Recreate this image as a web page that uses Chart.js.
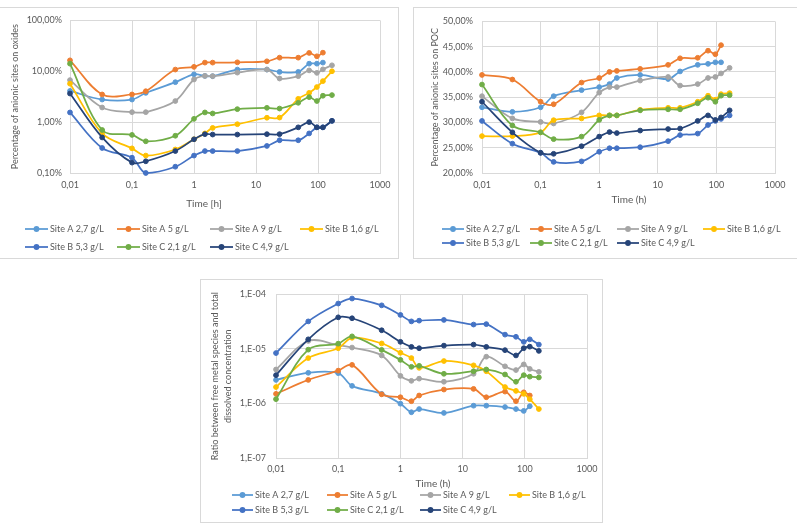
<!DOCTYPE html>
<html><head><meta charset="utf-8">
<script src="https://cdn.jsdelivr.net/npm/chart.js@4.4.1/dist/chart.umd.min.js"></script>
<style>
body{margin:0;background:#fff;width:797px;height:529px;overflow:hidden;position:relative}
.box{position:absolute;border:1px solid #d9d9d9;box-sizing:border-box}
canvas{position:absolute}
</style></head><body>
<div class="box" style="left:-1px;top:7px;width:400px;height:252px"></div>
<canvas id="c1" width="399" height="252" style="left:0;top:7px"></canvas>
<div class="box" style="left:413px;top:7px;width:385px;height:252px"></div>
<canvas id="c2" width="384" height="252" style="left:413px;top:7px"></canvas>
<div class="box" style="left:200px;top:279px;width:403px;height:244px"></div>
<canvas id="c3" width="403" height="244" style="left:200px;top:279px"></canvas>
<script>
// ---------- data ----------
const times = [0.01, 0.033, 0.1, 0.167, 0.5, 1, 1.5, 2, 5, 15, 24, 48, 72, 96, 120, 168];
const seriesNames = ['Site A 2,7 g/L','Site A 5 g/L','Site A 9 g/L','Site B 1,6 g/L','Site B 5,3 g/L','Site C 2,1 g/L','Site C 4,9 g/L'];
const seriesColors = ['#5B9BD5','#ED7D31','#A5A5A5','#FFC000','#4472C4','#70AD47','#264478'];
const xTickValues = [0.01, 0.1, 1, 10, 100, 1000];
const xTickLabels = ['0,01','0,1','1','10','100','1000'];

// Chart 1: percentage of anionic sites on oxides (%)
const oxA27 = [4.1, 2.78, 2.78, 3.76, 6.1, 8.7, 8.1, 8.0, 10.8, 10.8, 9.7, 9.7, 14.1, 14.1, 14.8];
const oxA5  = [16.4, 3.5, 3.5, 4.05, 10.8, 12.2, 14.8, 14.8, 15.0, 15.7, 18.5, 18.5, 22.9, 19.7, 23.2];
const oxA9  = [6.7, 1.94, 1.57, 1.57, 2.6, 6.9, 8.1, 8.0, 9.4, 10.8, 7.2, 8.0, 10.4, 9.3, 10.9, 13.1];
const oxB16 = [5.7, 0.6, 0.305, 0.22, 0.29, 0.46, 0.6, 0.77, 0.91, 1.22, 1.23, 2.87, 3.76, 4.9, 6.4, 10.0];
const oxB53 = [1.55, 0.31, 0.2, 0.1, 0.133, 0.22, 0.27, 0.27, 0.27, 0.34, 0.44, 0.44, 0.6, 0.79, 0.79, 1.06];
const oxC21 = [14.1, 0.7, 0.56, 0.42, 0.54, 1.16, 1.55, 1.48, 1.8, 1.91, 1.85, 2.4, 3.1, 2.6, 3.3, 3.4];
const oxC49 = [3.65, 0.5, 0.16, 0.17, 0.27, 0.46, 0.58, 0.57, 0.57, 0.58, 0.58, 0.79, 1.0, 0.79, 0.79, 1.06];
const oxTickValues = [0.1, 1, 10, 100];
const oxTickLabels = ['0,10%','1,00%','10,00%','100,00%'];

// Chart 2: percentage of anionic sites on POC (%)
const pA27 = [33.0, 32.1, 33.0, 35.2, 36.4, 37.0, 37.6, 38.8, 39.4, 38.6, 40.1, 41.4, 41.6, 41.9, 41.9];
const pA5  = [39.4, 38.5, 34.1, 33.6, 37.9, 38.8, 40.0, 40.2, 40.6, 41.4, 42.7, 42.8, 44.2, 43.5, 45.3];
const pA9  = [35.2, 30.8, 30.1, 29.8, 32.0, 35.9, 37.0, 37.0, 38.3, 39.0, 37.3, 37.6, 38.8, 39.0, 39.7, 40.8];
const pB16 = [27.3, 27.3, 28.05, 30.45, 30.8, 31.4, 31.4, 31.4, 32.5, 32.9, 32.9, 34.1, 35.3, 34.5, 35.6, 35.8];
const pB53 = [30.3, 25.8, 24.0, 22.2, 22.3, 24.2, 24.9, 24.9, 25.1, 26.3, 27.5, 27.8, 29.5, 30.3, 30.7, 31.4];
const pC21 = [37.5, 29.4, 28.05, 26.7, 27.2, 30.5, 31.4, 31.4, 32.4, 32.6, 32.6, 33.8, 34.9, 34.1, 35.3, 35.4];
const pC49 = [34.1, 28.05, 24.0, 23.8, 25.3, 27.2, 28.1, 27.9, 28.4, 28.7, 28.8, 30.3, 31.4, 30.5, 31.0, 32.4];

// Chart 3: ratio free metal species / total dissolved concentration
const rA27 = [2.7e-6, 3.65e-6, 3.6e-6, 2.1e-6, 1.5e-6, 9.9e-7, 6.9e-7, 7.9e-7, 6.7e-7, 9.1e-7, 9.1e-7, 8.6e-7, 7.9e-7, 7.3e-7, 8.9e-7];
const rA5  = [1.5e-6, 2.7e-6, 4.0e-6, 5.1e-6, 1.47e-6, 1.3e-6, 1.1e-6, 1.4e-6, 1.8e-6, 1.85e-6, 1.3e-6, 1.65e-6, 1.1e-6, 1.6e-6, 1.4e-6];
const rA9  = [4.2e-6, 1.4e-5, 1.18e-5, 1.06e-5, 7.6e-6, 3.2e-6, 2.6e-6, 2.85e-6, 2.5e-6, 3.5e-6, 7.2e-6, 4.8e-6, 4.1e-6, 5.2e-6, 4.3e-6, 3.8e-6];
const rB16 = [2.0e-6, 6.8e-6, 1.03e-5, 1.6e-5, 1.26e-5, 8.5e-6, 6.8e-6, 4.5e-6, 6.0e-6, 5.0e-6, 3.9e-6, 2.0e-6, 1.7e-6, 1.5e-6, 1.2e-6, 7.9e-7];
const rB53 = [8.4e-6, 3.2e-5, 6.8e-5, 8.4e-5, 6.3e-5, 4.2e-5, 3.2e-5, 3.3e-5, 3.4e-5, 2.8e-5, 2.85e-5, 1.83e-5, 1.67e-5, 1.35e-5, 1.5e-5, 1.2e-5];
const rC21 = [1.2e-6, 9.7e-6, 1.25e-5, 1.7e-5, 9.6e-6, 6.3e-6, 4.7e-6, 4.9e-6, 3.5e-6, 3.9e-6, 4.2e-6, 3.4e-6, 2.5e-6, 3.3e-6, 3.1e-6, 3.0e-6];
const rC49 = [3.3e-6, 1.5e-5, 3.8e-5, 3.65e-5, 2.2e-5, 1.35e-5, 1.09e-5, 1.03e-5, 1.15e-5, 1.2e-5, 1.09e-5, 9.5e-6, 7.6e-6, 1.03e-5, 1.1e-5, 9.2e-6];
const rTickValues = [1e-7, 1e-6, 1e-5, 1e-4];
const rTickLabels = ['1,E-07','1,E-06','1,E-05','1,E-04'];

// ---------- helpers ----------
const FONT = 'Lato';
const TXT = '#595959';
const GRID = '#d9d9d9';

function buildDatasets(list) {
  return list.map((vals, i) => ({
    label: seriesNames[i],
    data: vals.map((v, k) => ({x: times[k], y: v})),
    borderColor: seriesColors[i],
    backgroundColor: seriesColors[i],
    pointBackgroundColor: seriesColors[i],
    pointBorderColor: seriesColors[i],
    borderWidth: 1.75,
    pointRadius: 2.4,
    pointBorderWidth: 1,
    tension: 0.35,
    clip: false,
    order: -i
  }));
}

const gridLegend = {
  id: 'gridLegend',
  afterDraw(chart, args, o) {
    const ctx = chart.ctx;
    ctx.save();
    ctx.textBaseline = 'middle';
    chart.data.datasets.forEach((ds, i) => {
      const row = i < 4 ? 0 : 1, col = i < 4 ? i : i - 4;
      const x = o.cols[col], y = o.rows[row];
      ctx.strokeStyle = ds.borderColor; ctx.lineWidth = ds.borderWidth;
      ctx.beginPath(); ctx.moveTo(x, y); ctx.lineTo(x + o.len, y); ctx.stroke();
      ctx.fillStyle = ds.backgroundColor;
      ctx.beginPath(); ctx.arc(x + o.len / 2, y, 2.9, 0, Math.PI * 2); ctx.fill();
      ctx.fillStyle = TXT; ctx.textAlign = 'left';
      ctx.font = '9px ' + FONT;
      ctx.fillText(ds.label, x + o.len + 2, y);
    });
    if (o.xTitle) {
      ctx.font = '10px ' + FONT; ctx.fillStyle = TXT; ctx.textAlign = 'center';
      ctx.fillText(o.xTitle.text, o.xTitle.x, o.xTitle.y);
    }
    ctx.restore();
  }
};

function makeChart(id, cfg) {
  const yScale = {
    type: cfg.yType,
    min: cfg.yMin, max: cfg.yMax,
    position: 'left',
    grid: {color: GRID, drawTicks: false},
    border: {display: false},
    ticks: {
      font: {family: FONT, size: 9}, color: TXT, padding: cfg.yPad,
      callback: cfg.yCallback, autoSkip: false
    },
    title: {
      display: true, text: cfg.yTitle, color: TXT,
      font: {family: FONT, size: 9, lineHeight: cfg.yTitleLH || 1.2},
      padding: {top: cfg.yTitlePad, bottom: 0}
    },
    afterFit: s => { s.width = cfg.yWidth; }
  };
  if (cfg.yType === 'logarithmic') {
    yScale.afterBuildTicks = s => { s.ticks = cfg.yTicks.map(v => ({value: v})); };
    yScale.ticks.callback = (v, i) => cfg.yLabels[i];
  } else {
    yScale.ticks.stepSize = cfg.yStep;
  }
  return new Chart(document.getElementById(id), {
    type: 'line',
    data: {datasets: buildDatasets(cfg.series)},
    options: {
      responsive: false, animation: false, devicePixelRatio: 1,
      layout: {padding: {left: 0, right: cfg.padRight, top: cfg.padTop, bottom: 0}},
      scales: {
        x: {
          type: 'logarithmic', min: 0.01, max: 1000, position: 'bottom',
          afterBuildTicks: s => { s.ticks = xTickValues.map(v => ({value: v})); },
          grid: {color: GRID, drawTicks: false},
          border: {color: GRID},
          ticks: {
            font: {family: FONT, size: 9}, color: TXT, padding: cfg.xPad,
            maxRotation: 0, autoSkip: false,
            callback: (v, i) => xTickLabels[i]
          },
          afterFit: s => { s.height = cfg.xHeight; }
        },
        y: yScale
      },
      plugins: {
        legend: {display: false},
        tooltip: {enabled: false},
        gridLegend: cfg.legend
      }
    },
    plugins: [gridLegend]
  });
}

// Chart 1
makeChart('c1', {
  series: [oxA27, oxA5, oxA9, oxB16, oxB53, oxC21, oxC49],
  yType: 'logarithmic', yMin: 0.1, yMax: 100, yTicks: oxTickValues, yLabels: oxTickLabels,
  yTitle: 'Percentage of anionic sites on oxides', yTitlePad: 9.6, yWidth: 70, yPad: 8,
  padTop: 13, padRight: 19, xHeight: 86, xPad: 7,
  legend: {cols: [25, 117, 210, 300], rows: [222, 240], len: 23,
           xTitle: {text: 'Time [h]', x: 204, y: 197}}
});

// Chart 2
makeChart('c2', {
  series: [pA27, pA5, pA9, pB16, pB53, pC21, pC49],
  yType: 'linear', yMin: 20, yMax: 50, yStep: 5,
  yCallback: v => v.toFixed(2).replace('.', ',') + '%',
  yTitle: 'Percentage of anionic sites on POC', yTitlePad: 16.6, yWidth: 69, yPad: 9,
  padTop: 12, padRight: 22, xHeight: 86, xPad: 7,
  legend: {cols: [29, 117, 204, 290], rows: [222, 236], len: 22,
           xTitle: {text: 'Time (h)', x: 216, y: 193}}
});

// Chart 3
makeChart('c3', {
  series: [rA27, rA5, rA9, rB16, rB53, rC21, rC49],
  yType: 'logarithmic', yMin: 1e-7, yMax: 1e-4, yTicks: rTickValues, yLabels: rTickLabels,
  yTitle: ['Ratio between free metal species and total', 'dissolved concentration'],
  yTitlePad: 8.5, yTitleLH: 1.45, yWidth: 76, yPad: 10,
  padTop: 12, padRight: 13, xHeight: 65, xPad: 5.5,
  legend: {cols: [32, 127, 220, 309], rows: [216, 231], len: 21,
           xTitle: {text: 'Time (h)', x: 233, y: 205}}
});
</script>
</body></html>
